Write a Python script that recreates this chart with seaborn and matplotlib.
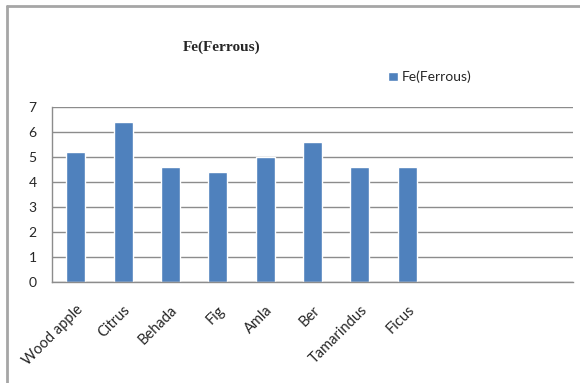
import numpy as np
import pandas as pd
import seaborn as sns
import matplotlib.pyplot as plt
from matplotlib.lines import Line2D

# Values
fruits = ["Wood apple", "Citrus", "Behada", "Fig", "Amla", "Ber", "Tamarindus", "Ficus"]
fe_ferrous = [5.2, 6.4, 4.6, 4.4, 5.0, 5.6, 4.6, 4.6]
# Excel left three empty category slots on the axis
empty_slots = ["", " ", "  "]
y_ticks = [0, 1, 2, 3, 4, 5, 6, 7]

df = pd.DataFrame({"fruit": fruits, "fe": fe_ferrous})
order = fruits + empty_slots

sns.set_style("white")
plt.rcParams["font.family"] = ["Lato", "DejaVu Sans"]

fig = plt.figure(figsize=(5.8, 3.83), dpi=100)
ax = fig.add_axes([52 / 580, 1 - 282 / 383, (573 - 52) / 580, (282 - 106.7) / 383])

sns.barplot(data=df, x="fruit", y="fe", order=order, color="#4F81BD",
            width=0.4, saturation=1, ax=ax, label="Fe(Ferrous)")

ax.set_xlim(-0.5, len(order) - 0.5)
ax.set_ylim(0, 7)
ax.set_yticks(y_ticks)
ax.yaxis.grid(True, color="#8c8c8c", linewidth=1)
ax.set_axisbelow(True)
ax.set_xlabel("")
ax.set_ylabel("")

for side in ["top", "right"]:
    ax.spines[side].set_visible(False)
for side in ["left", "bottom"]:
    ax.spines[side].set_color("#8c8c8c")
    ax.spines[side].set_linewidth(1)

# tick marks between categories, labels at the centres
ax.set_xticks(np.arange(len(order)))
ax.set_xticklabels(order, rotation=45, ha="right", rotation_mode="anchor", fontsize=10.5)
ax.set_xticks(np.arange(len(order) + 1) - 0.5, minor=True)
ax.tick_params(axis="x", which="major", length=0, pad=15)
ax.tick_params(axis="x", which="minor", length=5, color="#8c8c8c", width=1, direction="out")
ax.tick_params(axis="y", length=5, color="#8c8c8c", width=1, direction="out", labelsize=10, pad=6)

fig.text(183 / 580, 1 - 47 / 383, "Fe(Ferrous)", family="Liberation Serif",
         fontweight="bold", fontsize=11, va="center", ha="left")

ax.legend(loc="upper left", bbox_to_anchor=(381 / 580, 1 - 64 / 383),
          bbox_transform=fig.transFigure, frameon=False, fontsize=10,
          handlelength=0.7, handleheight=0.7, handletextpad=0.3, borderpad=0)

# chart frame (only top and left edges are inside the picture)
fig.add_artist(Line2D([7 / 580, 1], [1 - 6 / 383, 1 - 6 / 383], color="#a6a6a6", linewidth=2))
fig.add_artist(Line2D([7 / 580, 7 / 580], [0, 1 - 6 / 383], color="#a6a6a6", linewidth=2))

fig.savefig("out.png", dpi=100)
